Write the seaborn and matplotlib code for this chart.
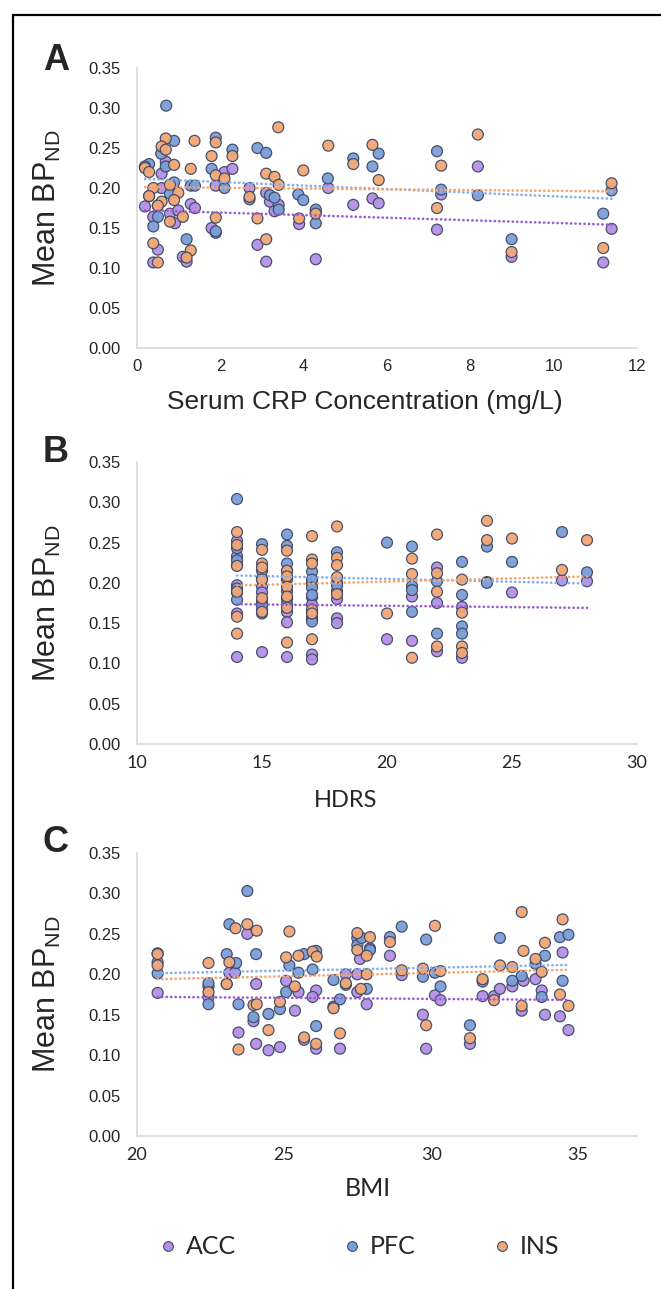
import numpy as np
import pandas as pd
import matplotlib.pyplot as plt
from matplotlib.lines import Line2D
import seaborn as sns

# Panel A: serum CRP (mg/L) vs mean BPnd
crp_acc_x = [0.69, 0.59, 2.10, 2.29, 0.59, 1.89, 2.70, 4.59, 0.19, 0.39, 0.79, 0.99, 1.29, 1.39, 0.91, 3.10,
             3.19, 3.40, 3.30, 3.89, 1.79, 1.89, 5.19, 5.65, 0.50, 2.89, 1.10, 1.19, 0.39, 3.10, 4.29, 4.29,
             7.20, 7.30, 8.18, 8.99, 11.39, 11.19, 5.80]
crp_acc_y = [0.233, 0.218, 0.220, 0.224, 0.200, 0.203, 0.200, 0.200, 0.177, 0.164, 0.168, 0.172, 0.180, 0.175,
             0.156, 0.194, 0.183, 0.179, 0.171, 0.155, 0.150, 0.144, 0.179, 0.187, 0.123, 0.129, 0.114, 0.108,
             0.107, 0.108, 0.111, 0.170, 0.148, 0.192, 0.227, 0.114, 0.149, 0.107, 0.181]
crp_pfc_x = [0.70, 0.89, 0.58, 0.29, 0.69, 0.19, 1.89, 2.29, 2.89, 3.10, 1.79, 1.29, 1.39, 0.89, 0.79, 2.10,
             2.70, 3.19, 3.30, 3.40, 3.87, 3.99, 4.58, 5.19, 5.65, 0.50, 0.39, 1.19, 1.89, 4.29, 4.29, 7.20,
             7.30, 8.18, 8.99, 11.39, 11.19, 5.80, 0.29, 0.50]
crp_pfc_y = [0.303, 0.259, 0.243, 0.230, 0.227, 0.227, 0.263, 0.248, 0.250, 0.244, 0.224, 0.203, 0.203, 0.207,
             0.193, 0.200, 0.186, 0.191, 0.188, 0.173, 0.192, 0.185, 0.212, 0.237, 0.227, 0.164, 0.152, 0.136,
             0.146, 0.156, 0.173, 0.246, 0.198, 0.191, 0.136, 0.197, 0.168, 0.243, 0.190, 0.178]
crp_ins_x = [0.69, 0.59, 0.69, 1.38, 3.39, 1.89, 1.79, 2.29, 4.59, 5.19, 5.65, 0.19, 0.29, 0.89, 1.29, 1.89,
             2.10, 3.10, 3.30, 3.40, 3.99, 0.39, 0.79, 0.29, 0.99, 0.89, 0.59, 0.50, 0.79, 1.10, 2.70, 1.89,
             2.89, 3.10, 3.89, 4.29, 0.39, 1.29, 1.19, 0.50, 7.30, 7.20, 8.18, 8.99, 11.39, 11.19, 5.80]
crp_ins_y = [0.262, 0.252, 0.248, 0.259, 0.276, 0.257, 0.240, 0.240, 0.253, 0.230, 0.254, 0.225, 0.220, 0.229,
             0.224, 0.216, 0.212, 0.218, 0.214, 0.204, 0.222, 0.200, 0.204, 0.190, 0.194, 0.185, 0.183, 0.178,
             0.158, 0.164, 0.189, 0.163, 0.162, 0.136, 0.162, 0.168, 0.131, 0.122, 0.113, 0.107, 0.228, 0.175,
             0.267, 0.120, 0.206, 0.125, 0.210]

# Panel B: HDRS score vs mean BPnd (several ACC points sit behind the other markers)
hdrs_acc_x = [14, 14, 14, 14, 14, 14, 14, 15, 15, 15, 15, 15, 15, 16, 16, 16, 16, 16, 16, 16, 17, 17, 17, 17,
              17, 17, 17, 18, 18, 18, 18, 18, 20, 21, 21, 22, 22, 22, 23, 23, 24, 25, 27, 28]
hdrs_acc_y = [0.252, 0.233, 0.222, 0.197, 0.188, 0.162, 0.108, 0.205, 0.195, 0.188, 0.176, 0.166, 0.114, 0.215,
              0.190, 0.180, 0.173, 0.164, 0.151, 0.108, 0.200, 0.182, 0.173, 0.165, 0.158, 0.111, 0.105, 0.200,
              0.190, 0.180, 0.156, 0.150, 0.130, 0.183, 0.128, 0.219, 0.175, 0.115, 0.170, 0.107, 0.201, 0.188,
              0.203, 0.202]
hdrs_pfc_x = [14, 14, 14, 14, 14, 15, 15, 15, 15, 16, 16, 16, 16, 16, 17, 17, 17, 17, 17, 17, 18, 18, 20, 21,
              21, 21, 21, 22, 22, 23, 23, 23, 23, 24, 24, 25, 27, 28]
hdrs_pfc_y = [0.304, 0.243, 0.228, 0.193, 0.179, 0.248, 0.215, 0.172, 0.162, 0.260, 0.246, 0.224, 0.204, 0.173,
              0.214, 0.204, 0.194, 0.185, 0.156, 0.152, 0.238, 0.197, 0.250, 0.245, 0.196, 0.191, 0.164, 0.202,
              0.137, 0.226, 0.185, 0.146, 0.137, 0.245, 0.200, 0.226, 0.263, 0.213]
hdrs_ins_x = [14, 14, 14, 14, 14, 14, 15, 15, 15, 15, 15, 15, 16, 16, 16, 16, 16, 16, 16, 17, 17, 17, 17, 17,
              17, 18, 18, 18, 18, 18, 20, 21, 21, 21, 22, 22, 22, 22, 23, 23, 23, 23, 24, 24, 25, 27, 28]
hdrs_ins_y = [0.263, 0.247, 0.221, 0.189, 0.158, 0.137, 0.241, 0.224, 0.219, 0.204, 0.181, 0.164, 0.240, 0.215,
              0.208, 0.195, 0.183, 0.169, 0.126, 0.258, 0.229, 0.224, 0.167, 0.162, 0.130, 0.270, 0.231, 0.222,
              0.207, 0.186, 0.162, 0.230, 0.211, 0.107, 0.260, 0.212, 0.189, 0.121, 0.204, 0.163, 0.121, 0.113,
              0.277, 0.253, 0.255, 0.216, 0.253]

# Panel C: BMI vs mean BPnd
bmi_acc_x = [20.70, 20.70, 22.43, 23.75, 23.14, 23.33, 23.05, 24.05, 22.43, 23.45, 24.05, 24.47, 24.86, 23.96,
             25.07, 25.49, 25.37, 26.09, 25.97, 25.68, 26.09, 26.68, 26.90, 27.49, 27.58, 27.92, 27.49, 27.81,
             28.60, 27.10, 29.00, 29.72, 29.83, 30.13, 30.32, 31.32, 31.75, 32.14, 32.34, 32.76, 33.08, 33.14,
             33.55, 33.76, 33.87, 34.38, 34.47, 34.67]
bmi_acc_y = [0.177, 0.215, 0.185, 0.250, 0.202, 0.202, 0.188, 0.188, 0.172, 0.128, 0.114, 0.106, 0.110, 0.142,
             0.192, 0.178, 0.155, 0.180, 0.172, 0.119, 0.108, 0.160, 0.108, 0.200, 0.219, 0.232, 0.178, 0.163,
             0.223, 0.200, 0.199, 0.150, 0.108, 0.174, 0.168, 0.114, 0.173, 0.173, 0.182, 0.185, 0.155, 0.192,
             0.194, 0.180, 0.150, 0.148, 0.227, 0.131]
bmi_pfc_x = [23.75, 23.14, 20.70, 20.70, 23.05, 23.37, 24.05, 22.43, 22.43, 23.45, 23.96, 24.47, 24.86, 25.07,
             25.18, 25.49, 25.68, 26.09, 25.97, 26.09, 26.68, 26.90, 27.10, 27.49, 27.49, 27.64, 27.81, 27.92,
             28.60, 29.00, 29.83, 29.72, 30.13, 30.32, 31.32, 31.75, 32.34, 32.76, 33.08, 33.55, 33.87, 33.76,
             34.38, 34.67, 34.47]
bmi_pfc_y = [0.303, 0.262, 0.226, 0.201, 0.225, 0.214, 0.225, 0.189, 0.163, 0.163, 0.147, 0.151, 0.157, 0.178,
             0.211, 0.202, 0.225, 0.229, 0.206, 0.136, 0.193, 0.169, 0.187, 0.245, 0.236, 0.245, 0.182, 0.230,
             0.246, 0.259, 0.243, 0.197, 0.202, 0.185, 0.137, 0.191, 0.245, 0.192, 0.198, 0.213, 0.223, 0.172,
             0.246, 0.249, 0.192]
bmi_ins_x = [20.70, 20.70, 22.43, 22.43, 23.05, 23.14, 23.35, 23.75, 24.07, 23.96, 24.07, 23.45, 24.47, 24.86,
             25.18, 25.07, 25.49, 25.37, 25.97, 26.11, 25.68, 26.09, 26.68, 26.90, 27.10, 27.49, 27.81, 27.81,
             27.61, 27.49, 27.92, 28.60, 29.00, 30.13, 29.72, 30.32, 29.83, 31.32, 31.75, 32.14, 32.34, 32.76,
             33.08, 33.14, 33.08, 33.55, 33.76, 33.87, 34.47, 34.38, 34.67]
bmi_ins_y = [0.225, 0.211, 0.214, 0.178, 0.188, 0.215, 0.257, 0.262, 0.254, 0.162, 0.163, 0.107, 0.131, 0.166,
             0.253, 0.221, 0.223, 0.185, 0.228, 0.222, 0.122, 0.114, 0.158, 0.127, 0.189, 0.251, 0.200, 0.223,
             0.182, 0.230, 0.246, 0.240, 0.205, 0.260, 0.207, 0.204, 0.137, 0.121, 0.194, 0.168, 0.211, 0.209,
             0.277, 0.229, 0.161, 0.219, 0.203, 0.239, 0.268, 0.175, 0.161]

regions = ['ACC', 'PFC', 'INS']
fill_colors = {'ACC': '#B48FE6', 'PFC': '#7A9ED8', 'INS': '#F3A774'}
line_colors = {'ACC': '#9A5CD6', 'PFC': '#86AEEA', 'INS': '#F5A36C'}
edge_color = '#3E4A66'
legend_x_px = [168, 352, 502]  # marker centres of the legend entries

sns.set_style('white')
plt.rcParams['font.family'] = ['Liberation Sans', 'DejaVu Sans']
plt.rcParams['mathtext.fontset'] = 'custom'
plt.rcParams['mathtext.rm'] = 'Liberation Sans'


def make_frame(xs, ys):
    # long format table, one row per point
    parts = []
    for reg, x, y in zip(regions, xs, ys):
        parts.append(pd.DataFrame({'x': x, 'y': y, 'region': reg}))
    return pd.concat(parts, ignore_index=True)


def draw_panel(ax, df, xticks, xlim, xlabel, label_x, label_y, xfont):
    sns.scatterplot(data=df, x='x', y='y', hue='region', hue_order=regions, palette=fill_colors,
                    s=62, edgecolor=edge_color, linewidth=0.9, alpha=0.95, legend=False, ax=ax, zorder=3)
    for reg in regions:
        sub = df[df['region'] == reg]
        sns.regplot(data=sub, x='x', y='y', scatter=False, ci=None, truncate=True, ax=ax,
                    line_kws=dict(color=line_colors[reg], lw=1.9, ls=(0, (0.1, 1.6)),
                                  dash_capstyle='round', zorder=4))
    ax.set_xlim(xlim)
    ax.set_ylim(0, 0.35)
    ax.set_xticks(xticks)
    ax.set_yticks(np.arange(0, 0.351, 0.05))
    ax.set_yticklabels([f'{v:.2f}' for v in np.arange(0, 0.351, 0.05)], fontsize=12)
    ax.set_xticklabels([str(t) for t in xticks], fontsize=xfont[1], family=xfont[0])
    ax.tick_params(length=0, pad=12)
    ax.tick_params(axis='x', pad=8)
    for side in ['top', 'right']:
        ax.spines[side].set_visible(False)
    for side in ['left', 'bottom']:
        ax.spines[side].set_color('#D9D9D9')
        ax.spines[side].set_linewidth(1.2)
    ax.set_ylabel(r'Mean BP$_\mathregular{ND}$', fontsize=22)
    ax.yaxis.set_label_coords(-0.18, 0.5)
    ax.yaxis.label.set_va('center')
    ax.set_xlabel(xlabel, fontsize=xfont[2], family=xfont[0])
    ax.xaxis.set_label_coords(label_x, label_y)
    ax.xaxis.label.set_va('center')


fig = plt.figure(figsize=(6.61, 12.89), dpi=100)
axA = fig.add_axes([0.2073, 0.7300, 0.7564, 0.2172])
axB = fig.add_axes([0.2073, 0.4228, 0.7564, 0.2188])
axC = fig.add_axes([0.2073, 0.1187, 0.7564, 0.2195])

dfA = make_frame([crp_acc_x, crp_pfc_x, crp_ins_x], [crp_acc_y, crp_pfc_y, crp_ins_y])
dfB = make_frame([hdrs_acc_x, hdrs_pfc_x, hdrs_ins_x], [hdrs_acc_y, hdrs_pfc_y, hdrs_ins_y])
dfC = make_frame([bmi_acc_x, bmi_pfc_x, bmi_ins_x], [bmi_acc_y, bmi_pfc_y, bmi_ins_y])

draw_panel(axA, dfA, list(range(0, 13, 2)), (0, 12), 'Serum CRP Concentration (mg/L)',
           0.456, -54 / 280, ('Liberation Sans', 12, 19))
draw_panel(axB, dfB, list(range(10, 31, 5)), (10, 30), 'HDRS',
           0.418, -56 / 282, ('Lato', 13, 17))
draw_panel(axC, dfC, list(range(20, 36, 5)), (20, 37), 'BMI',
           0.462, -53 / 283, ('Lato', 13, 18))

# panel letters
for letter, ypx in [('A', 60), ('B', 452), ('C', 843)]:
    fig.text(56 / 661, 1 - ypx / 1289, letter, fontsize=26, fontweight='bold', ha='center', va='center')

# legend under panel C, one entry per region so the gaps follow the original
for reg, xpx in zip(regions, legend_x_px):
    h = Line2D([], [], marker='o', ls='', markersize=7, markerfacecolor=fill_colors[reg],
               markeredgecolor=edge_color, markeredgewidth=0.8)
    fig.legend([h], [reg], loc='center left', bbox_to_anchor=((xpx - 10) / 661, 1 - 1247 / 1289),
               frameon=False, prop={'family': 'Lato', 'size': 18}, borderpad=0, borderaxespad=0,
               handletextpad=0.3, handlelength=0.8)

# frame lines at top and left of the figure
fig.add_artist(Line2D([13 / 661, 1], [1 - 15 / 1289] * 2, color='black', lw=1.6, transform=fig.transFigure))
fig.add_artist(Line2D([13 / 661] * 2, [0, 1 - 15 / 1289], color='black', lw=1.6, transform=fig.transFigure))

fig.savefig('out.png', dpi=100, facecolor='white')
